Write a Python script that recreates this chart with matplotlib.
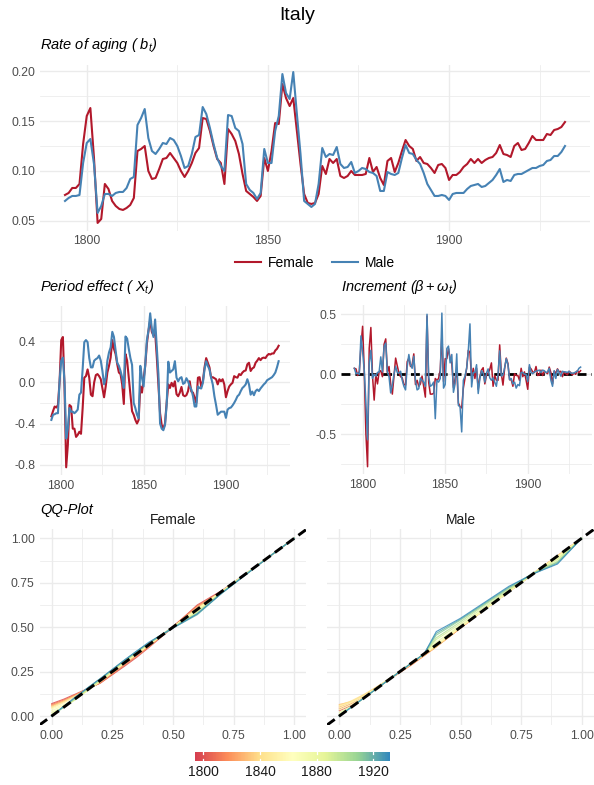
import numpy as np
import matplotlib
matplotlib.use('Agg')
import matplotlib.pyplot as plt
from matplotlib.colors import LinearSegmentedColormap, Normalize
from matplotlib.lines import Line2D
import matplotlib.cm as cm

plt.rcParams['font.family'] = ['Liberation Sans', 'DejaVu Sans']
plt.rcParams['mathtext.fontset'] = 'custom'
plt.rcParams['mathtext.rm'] = 'Liberation Sans'
plt.rcParams['mathtext.it'] = 'Liberation Sans:italic'
plt.rcParams['axes.unicode_minus'] = False

# ---- data ----
years = np.arange(1794, 1933)

female_bt = [
    0.076, 0.078, 0.083, 0.083, 0.087, 0.127, 0.155, 0.163, 0.113, 0.048,
    0.052, 0.087, 0.082, 0.070, 0.065, 0.062, 0.061, 0.063, 0.066, 0.073,
    0.120, 0.122, 0.125, 0.100, 0.092, 0.093, 0.102, 0.112, 0.113, 0.118,
    0.113, 0.108, 0.100, 0.094, 0.100, 0.108, 0.118, 0.123, 0.153, 0.152,
    0.140, 0.125, 0.112, 0.108, 0.087, 0.142, 0.137, 0.130, 0.117, 0.097,
    0.080, 0.077, 0.074, 0.070, 0.075, 0.113, 0.100, 0.120, 0.148, 0.147,
    0.187, 0.173, 0.165, 0.173, 0.140, 0.107, 0.077, 0.068, 0.067, 0.068,
    0.077, 0.105, 0.097, 0.112, 0.108, 0.112, 0.095, 0.093, 0.095, 0.100,
    0.096, 0.096, 0.096, 0.097, 0.113, 0.099, 0.104, 0.093, 0.086, 0.110,
    0.113, 0.099, 0.108, 0.120, 0.131, 0.125, 0.122, 0.110, 0.114, 0.108,
    0.107, 0.103, 0.098, 0.106, 0.107, 0.103, 0.091, 0.096, 0.096, 0.099,
    0.104, 0.107, 0.112, 0.108, 0.112, 0.108, 0.111, 0.113, 0.114, 0.118,
    0.126, 0.117, 0.116, 0.114, 0.125, 0.128, 0.121, 0.122, 0.128, 0.135,
    0.131, 0.131, 0.131, 0.137, 0.136, 0.141, 0.142, 0.144, 0.149]

male_bt = [
    0.070, 0.073, 0.075, 0.075, 0.076, 0.108, 0.128, 0.132, 0.107, 0.058,
    0.065, 0.077, 0.077, 0.075, 0.078, 0.079, 0.079, 0.083, 0.092, 0.094,
    0.146, 0.153, 0.162, 0.133, 0.120, 0.117, 0.122, 0.128, 0.127, 0.133,
    0.131, 0.125, 0.115, 0.103, 0.105, 0.117, 0.134, 0.136, 0.164, 0.157,
    0.143, 0.127, 0.113, 0.105, 0.100, 0.156, 0.155, 0.143, 0.140, 0.127,
    0.087, 0.081, 0.078, 0.072, 0.078, 0.122, 0.108, 0.108, 0.140, 0.155,
    0.197, 0.178, 0.172, 0.199, 0.157, 0.117, 0.070, 0.067, 0.064, 0.067,
    0.087, 0.123, 0.114, 0.117, 0.116, 0.124, 0.107, 0.103, 0.104, 0.109,
    0.098, 0.100, 0.103, 0.102, 0.099, 0.098, 0.095, 0.080, 0.080, 0.099,
    0.097, 0.096, 0.098, 0.113, 0.126, 0.118, 0.117, 0.111, 0.107, 0.098,
    0.087, 0.081, 0.075, 0.075, 0.076, 0.075, 0.071, 0.077, 0.078, 0.078,
    0.078, 0.082, 0.085, 0.086, 0.087, 0.084, 0.085, 0.088, 0.091, 0.096,
    0.102, 0.089, 0.091, 0.090, 0.096, 0.097, 0.097, 0.099, 0.101, 0.103,
    0.103, 0.105, 0.106, 0.110, 0.111, 0.115, 0.115, 0.119, 0.125]

female_xt = [
    -0.33, -0.28, -0.235, -0.245, -0.22, 0.01, 0.41, 0.44, -0.055, -0.825,
    -0.61, -0.22, -0.235, -0.45, -0.45, -0.53, -0.51, -0.48, -0.50, -0.25,
    0.045, 0.06, 0.125, 0.045, -0.12, -0.135, 0.0, 0.07, 0.08, 0.06,
    0.03, -0.055, -0.145, -0.04, 0.095, 0.16, 0.24, 0.41, 0.325, 0.275,
    0.175, 0.095, 0.08, -0.02, -0.21, 0.275, 0.21, 0.045, -0.12, -0.28,
    -0.315, -0.365, -0.40, -0.365, -0.04, -0.10, 0.03, 0.16, 0.375, 0.505,
    0.60, 0.49, 0.455, 0.49, 0.25, -0.02, -0.30, -0.415, -0.45, -0.40,
    -0.20, -0.02, -0.055, -0.005, -0.04, 0.01, -0.115, -0.135, -0.10, -0.045,
    -0.125, -0.135, -0.125, -0.085, 0.01, -0.09, -0.10, -0.15, -0.20, 0.045,
    0.05, -0.04, 0.01, 0.145, 0.235, 0.19, 0.145, 0.045, 0.05, 0.04,
    0.03, -0.02, 0.03, 0.01, 0.03, -0.02, -0.145, -0.085, -0.04, -0.02,
    -0.005, 0.06, 0.05, 0.045, 0.08, 0.07, 0.095, 0.11, 0.115, 0.175,
    0.19, 0.11, 0.135, 0.145, 0.19, 0.21, 0.235, 0.215, 0.235, 0.24,
    0.235, 0.26, 0.275, 0.27, 0.28, 0.28, 0.31, 0.325, 0.355]

male_xt = [
    -0.365, -0.315, -0.31, -0.30, -0.30, 0.02, 0.21, 0.24, 0.0, -0.545,
    -0.45, -0.25, -0.285, -0.285, -0.30, -0.285, -0.265, -0.12, -0.10, 0.13,
    0.39, 0.41, 0.39, 0.235, 0.145, 0.145, 0.21, 0.225, 0.235, 0.26,
    0.21, 0.11, -0.02, 0.045, 0.21, 0.29, 0.34, 0.49, 0.44, 0.31,
    0.19, 0.16, 0.11, 0.045, -0.055, 0.445, 0.425, 0.325, 0.235, 0.17,
    -0.20, -0.25, -0.315, -0.35, 0.16, 0.045, -0.04, 0.175, 0.41, 0.505,
    0.67, 0.52, 0.44, 0.61, 0.35, 0.08, -0.40, -0.45, -0.465, -0.415,
    -0.22, 0.20, 0.095, 0.11, 0.125, 0.205, 0.045, 0.01, 0.04, 0.05,
    -0.015, -0.005, 0.04, 0.01, -0.04, -0.07, -0.135, -0.235, -0.235, -0.04,
    -0.055, -0.06, -0.005, 0.125, 0.205, 0.16, 0.125, 0.045, -0.02, -0.135,
    -0.22, -0.315, -0.30, -0.285, -0.285, -0.285, -0.345, -0.265, -0.25, -0.245,
    -0.225, -0.20, -0.17, -0.135, -0.12, -0.085, -0.055, -0.04, -0.02, 0.03,
    -0.02, -0.12, -0.09, -0.125, -0.085, -0.07, -0.085, -0.06, -0.04, -0.02,
    -0.005, 0.02, 0.03, 0.04, 0.05, 0.07, 0.095, 0.145, 0.205]

# QQ curves: theoretical quantile knots and empirical values, one row per year
qq_knots = [0, 0.05, 0.1, 0.15, 0.2, 0.3, 0.35, 0.4, 0.5, 0.6, 0.7, 0.8, 0.9, 1.0]
qq_years = [1800, 1810, 1820, 1830, 1840, 1850, 1860, 1870, 1880, 1890, 1900, 1910, 1920, 1930]
female_qq = [
    [0.07, 0.095, 0.125, 0.155, 0.185, 0.28, 0.33, 0.385, 0.5, 0.625, 0.705, 0.8, 0.9, 1.0],
    [0.065, 0.09, 0.12, 0.155, 0.185, 0.285, 0.335, 0.39, 0.505, 0.62, 0.7, 0.8, 0.9, 1.0],
    [0.06, 0.085, 0.12, 0.155, 0.19, 0.29, 0.34, 0.39, 0.5, 0.615, 0.7, 0.8, 0.9, 1.0],
    [0.055, 0.085, 0.115, 0.15, 0.19, 0.295, 0.345, 0.395, 0.5, 0.61, 0.7, 0.8, 0.9, 1.0],
    [0.05, 0.08, 0.115, 0.15, 0.195, 0.3, 0.35, 0.4, 0.5, 0.605, 0.7, 0.8, 0.9, 1.0],
    [0.045, 0.075, 0.11, 0.15, 0.195, 0.3, 0.35, 0.4, 0.5, 0.6, 0.7, 0.8, 0.9, 1.0],
    [0.04, 0.065, 0.1, 0.145, 0.195, 0.3, 0.35, 0.4, 0.5, 0.6, 0.7, 0.8, 0.9, 1.0],
    [0.03, 0.06, 0.1, 0.145, 0.2, 0.305, 0.355, 0.405, 0.5, 0.595, 0.7, 0.8, 0.9, 1.0],
    [0.02, 0.05, 0.095, 0.145, 0.2, 0.305, 0.355, 0.405, 0.5, 0.59, 0.695, 0.8, 0.9, 1.0],
    [0.01, 0.05, 0.095, 0.15, 0.2, 0.305, 0.355, 0.405, 0.5, 0.585, 0.695, 0.8, 0.9, 1.0],
    [0.005, 0.05, 0.1, 0.155, 0.205, 0.31, 0.36, 0.41, 0.5, 0.58, 0.695, 0.8, 0.9, 1.0],
    [0.0, 0.05, 0.105, 0.16, 0.21, 0.31, 0.36, 0.41, 0.5, 0.575, 0.69, 0.795, 0.9, 1.0],
    [0.0, 0.055, 0.105, 0.16, 0.21, 0.315, 0.365, 0.41, 0.495, 0.57, 0.69, 0.795, 0.9, 1.0],
    [0.0, 0.055, 0.11, 0.16, 0.21, 0.315, 0.365, 0.415, 0.495, 0.575, 0.69, 0.795, 0.9, 1.0]]
male_qq = [
    [0.03, 0.06, 0.105, 0.15, 0.2, 0.295, 0.345, 0.395, 0.5, 0.6, 0.7, 0.8, 0.9, 1.0],
    [0.04, 0.07, 0.11, 0.155, 0.2, 0.29, 0.34, 0.39, 0.495, 0.6, 0.7, 0.8, 0.9, 1.0],
    [0.05, 0.075, 0.115, 0.155, 0.2, 0.29, 0.34, 0.39, 0.495, 0.6, 0.7, 0.8, 0.9, 1.0],
    [0.065, 0.08, 0.115, 0.16, 0.2, 0.295, 0.34, 0.39, 0.495, 0.6, 0.705, 0.8, 0.9, 1.0],
    [0.06, 0.085, 0.12, 0.16, 0.205, 0.295, 0.345, 0.39, 0.5, 0.6, 0.705, 0.805, 0.9, 1.0],
    [0.055, 0.08, 0.115, 0.155, 0.205, 0.3, 0.35, 0.395, 0.5, 0.6, 0.7, 0.8, 0.9, 1.0],
    [0.045, 0.075, 0.11, 0.155, 0.2, 0.3, 0.35, 0.4, 0.5, 0.6, 0.7, 0.8, 0.895, 1.0],
    [0.035, 0.065, 0.105, 0.15, 0.2, 0.3, 0.35, 0.405, 0.505, 0.6, 0.7, 0.8, 0.89, 1.0],
    [0.02, 0.055, 0.1, 0.15, 0.2, 0.3, 0.35, 0.415, 0.51, 0.605, 0.705, 0.8, 0.885, 1.0],
    [0.01, 0.05, 0.1, 0.15, 0.2, 0.3, 0.35, 0.43, 0.52, 0.615, 0.71, 0.8, 0.88, 1.0],
    [0.005, 0.05, 0.1, 0.15, 0.2, 0.3, 0.35, 0.44, 0.53, 0.625, 0.715, 0.8, 0.87, 1.0],
    [0.0, 0.05, 0.1, 0.15, 0.2, 0.3, 0.35, 0.455, 0.54, 0.63, 0.72, 0.805, 0.865, 1.0],
    [0.0, 0.05, 0.1, 0.15, 0.2, 0.3, 0.35, 0.465, 0.545, 0.635, 0.725, 0.8, 0.86, 1.0],
    [0.0, 0.05, 0.1, 0.15, 0.2, 0.3, 0.35, 0.475, 0.55, 0.64, 0.73, 0.8, 0.855, 1.0]]

# increment = year-on-year change of the period effect
female_inc = np.diff(female_xt)
male_inc = np.diff(male_xt)

RED, BLUE = '#B2182B', '#4682B4'
GRID = '#EBEBEB'
spectral = LinearSegmentedColormap.from_list(
    'spec', ['#D53E4F', '#FC8D59', '#FEE08B', '#FFFFBF', '#E6F598', '#99D594', '#3288BD'])
norm = Normalize(years[0], years[-1])

W, H = 594, 785
fig = plt.figure(figsize=(W / 100, H / 100), dpi=100)


def box(l, t, r, b):
    return [l / W, 1 - b / H, (r - l) / W, (b - t) / H]


def expand(vals, f=0.05):
    lo, hi = np.min(vals), np.max(vals)
    pad = (hi - lo) * f
    return lo - pad, hi + pad


def style(ax, xmaj, xmin, ymaj, ymin, ylab, showy=True):
    for s in ax.spines.values():
        s.set_visible(False)
    ax.set_xticks(xmaj)
    ax.set_xticks(xmin, minor=True)
    ax.set_yticks(ymaj)
    ax.set_yticks(ymin, minor=True)
    if showy:
        ax.set_yticklabels(ylab)
    else:
        ax.set_yticklabels([])
    ax.grid(which='major', color=GRID, lw=1.0)
    ax.grid(which='minor', color=GRID, lw=0.55)
    ax.tick_params(which='both', length=0, labelsize=8.8, labelcolor='#4D4D4D', pad=3.5)
    ax.set_axisbelow(True)


fig.text(0.5, 1 - 16 / H, 'Italy', ha='center', va='center', fontsize=14)

# ---- rate of aging ----
ax1 = fig.add_axes(box(40, 64.5, 590, 230.5))
ax1.plot(years, female_bt, color=RED, lw=1.5)
ax1.plot(years, male_bt, color=BLUE, lw=1.5)
ax1.set_xlim(expand(years))
ax1.set_ylim(expand(np.r_[female_bt, male_bt]))
style(ax1, [1800, 1850, 1900], [1825, 1875, 1925],
      [0.05, 0.10, 0.15, 0.20], [0.075, 0.125, 0.175], ['0.05', '0.10', '0.15', '0.20'])
fig.text(40 / W, 1 - 45 / H, r'Rate of aging ( $b_t$)', style='italic', fontsize=10.5, va='center')

handles = [Line2D([], [], color=RED, lw=1.5), Line2D([], [], color=BLUE, lw=1.5)]
fig.legend(handles, ['Female', 'Male'], loc='center', bbox_to_anchor=(315 / W, 1 - 263 / H),
           ncol=2, frameon=False, fontsize=10, handlelength=1.9, handletextpad=0.5,
           columnspacing=1.2)

# ---- period effect ----
ax2 = fig.add_axes(box(40, 305.6, 290, 475))
ax2.plot(years, female_xt, color=RED, lw=1.5)
ax2.plot(years, male_xt, color=BLUE, lw=1.5)
ax2.set_xlim(expand(years))
ax2.set_ylim(expand(np.r_[female_xt, male_xt]))
style(ax2, [1800, 1850, 1900], [1825, 1875, 1925],
      [-0.8, -0.4, 0.0, 0.4], [-0.6, -0.2, 0.2, 0.6], ['-0.8', '-0.4', '0.0', '0.4'])
fig.text(40 / W, 1 - 287 / H, r'Period effect ( $X_t$)', style='italic', fontsize=10.5, va='center')

# ---- increment ----
ax3 = fig.add_axes(box(341.3, 305.4, 592, 474.4))
ax3.axhline(0, color='black', lw=2.0, dashes=(3.2, 1.8), zorder=1)
ax3.plot(years[1:], female_inc, color=RED, lw=1.1, zorder=2)
ax3.plot(years[1:], male_inc, color=BLUE, lw=1.1, zorder=3)
ax3.set_xlim(expand(years))
ax3.set_ylim(expand(np.r_[female_inc, male_inc]))
style(ax3, [1800, 1850, 1900], [1825, 1875, 1925],
      [-0.5, 0.0, 0.5], [-0.75, -0.25, 0.25], ['-0.5', '0.0', '0.5'])
fig.text(341 / W, 1 - 287 / H, r'Increment ($\beta + \omega_t$)', style='italic', fontsize=10.5, va='center')

# ---- QQ plots ----
qq_ticks = [0, 0.25, 0.5, 0.75, 1.0]
qq_minor = [0.125, 0.375, 0.625, 0.875]
qq_lab = ['0.00', '0.25', '0.50', '0.75', '1.00']
for (l, r), data, name, showy in [((39.6, 306.4), female_qq, 'Female', True),
                                   ((327.2, 593.8), male_qq, 'Male', False)]:
    ax = fig.add_axes(box(l, 529.4, r, 724.9))
    for yr, vals in zip(qq_years, data):
        ax.plot(qq_knots, vals, color=spectral(norm(yr)), lw=0.8, alpha=0.85, zorder=2)
    ax.axline((0, 0), (1, 1), color='black', lw=2.1, dashes=(3.2, 1.8), zorder=3)
    ax.set_xlim(-0.05, 1.05)
    ax.set_ylim(-0.05, 1.05)
    style(ax, qq_ticks, qq_minor, qq_ticks, qq_minor, qq_lab, showy)
    ax.set_xticklabels(qq_lab)
    fig.text((l + r) / 2 / W, 1 - 520 / H, name, ha='center', va='center',
             fontsize=10, color='#1A1A1A')
fig.text(40 / W, 1 - 510 / H, 'QQ-Plot', style='italic', fontsize=10.5, va='center')

# ---- colour bar ----
cax = fig.add_axes(box(195, 752, 390, 761))
sm = cm.ScalarMappable(norm=norm, cmap=spectral)
cb = fig.colorbar(sm, cax=cax, orientation='horizontal')
cb.outline.set_visible(False)
cb.set_ticks([1800, 1840, 1880, 1920])
cax.tick_params(length=0, labelsize=10, labelcolor='#1A1A1A', pad=3)
for t in [1800, 1840, 1880, 1920]:
    cax.plot([t, t], [0, 0.22], color='white', lw=0.9, transform=cax.get_xaxis_transform())
    cax.plot([t, t], [0.78, 1], color='white', lw=0.9, transform=cax.get_xaxis_transform())

fig.savefig('out.png', dpi=100, facecolor='white')
